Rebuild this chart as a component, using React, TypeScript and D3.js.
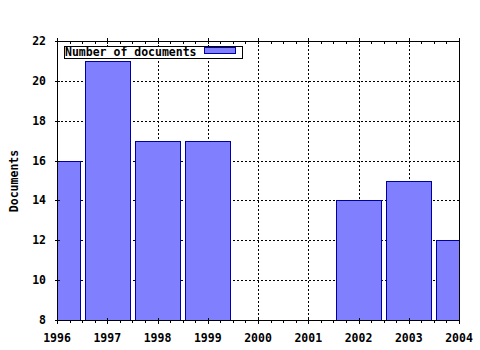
import React from "react";
import * as d3 from "d3";

const years = [1996, 1997, 1998, 1999, 2000, 2001, 2002, 2003, 2004];
const documents: (number | null)[] = [16, 21, 17, 17, null, null, 14, 15, 12];
const yTicks = [8, 10, 12, 14, 16, 18, 20, 22];
const seriesName = "Number of documents";
const yTitle = "Documents";

const W = 480, H = 350;
const L = 57, R = 459, T = 41, B = 320;
const FONT = "'DejaVu Sans Mono', monospace";

export default function App() {
  const x = d3.scaleLinear().domain([1996, 2004]).range([L, R]);
  const y = d3.scaleLinear().domain([8, 22]).range([B, T]);
  const step = x(1997) - x(1996);
  const bw = step * 0.9;
  const minor = d3.range(1996, 2004.001, 0.25).filter((v) => Math.abs(v - Math.round(v)) > 0.01);

  return (
    <svg width={W} height={H} style={{ position: "absolute", left: 0, top: 0, background: "#fff" }}
      shapeRendering="crispEdges">
      <defs>
        <clipPath id="plot">
          <rect x={L} y={T} width={R - L} height={B - T} />
        </clipPath>
      </defs>
      <rect x={0} y={0} width={W} height={H} fill="#fff" />
      {/* grid */}
      <g stroke="#000" strokeDasharray="2,2" strokeWidth={1}>
        {years.slice(1, -1).map((yr) => (
          <line key={yr} x1={Math.round(x(yr)) + 0.5} x2={Math.round(x(yr)) + 0.5} y1={T} y2={B} />
        ))}
        {yTicks.slice(1, -1).map((v) => (
          <line key={v} x1={L} x2={R} y1={Math.round(y(v)) + 0.5} y2={Math.round(y(v)) + 0.5} />
        ))}
      </g>
      {/* bars */}
      <g clipPath="url(#plot)">
        {years.map((yr, i) => {
          const v = documents[i];
          if (v == null) return null;
          const x0 = Math.round(x(yr) - bw / 2) + 0.5;
          const x1 = Math.round(x(yr) + bw / 2) + 0.5;
          return (
            <rect key={yr} x={x0} y={Math.round(y(v)) + 0.5} width={x1 - x0}
              height={Math.round(y(8)) - Math.round(y(v))}
              fill="#8080ff" stroke="#0000a0" strokeWidth={1} />
          );
        })}
      </g>
      {/* frame */}
      <rect x={L + 0.5} y={T + 0.5} width={R - L} height={B - T} fill="none" stroke="#000" strokeWidth={1} />
      {/* x ticks */}
      <g stroke="#000">
        {years.map((yr) => {
          const px = Math.round(x(yr)) + 0.5;
          return (
            <g key={yr}>
              <line x1={px} x2={px} y1={B - 2} y2={B + 4} />
              <line x1={px} x2={px} y1={T - 3} y2={T + 3} />
            </g>
          );
        })}
        {minor.map((v) => {
          const px = Math.round(x(v)) + 0.5;
          return (
            <g key={v}>
              <line x1={px} x2={px} y1={B + 1} y2={B + 3} />
              <line x1={px} x2={px} y1={T + 1} y2={T + 3} />
            </g>
          );
        })}
        {yTicks.map((v) => {
          const py = Math.round(y(v)) + 0.5;
          return <line key={v} x1={L - 2} x2={L + 3} y1={py} y2={py} />;
        })}
      </g>
      {/* labels */}
      <g fontFamily={FONT} fontWeight="bold" fontSize={11.5} fill="#000">
        {years.map((yr) => (
          <text key={yr} x={x(yr)} y={341.5} textAnchor="middle">{yr}</text>
        ))}
        {yTicks.map((v) => (
          <text key={v} x={46} y={y(v) + 4} textAnchor="end">{v}</text>
        ))}
        <text transform={`translate(17.5,181) rotate(-90)`} textAnchor="middle">{yTitle}</text>
      </g>
      {/* legend */}
      <rect x={64.5} y={46.5} width={178} height={12} fill="#fff" stroke="#000" />
      <text x={65} y={56} fontFamily={FONT} fontWeight="bold" fontSize={11.5}>{seriesName}</text>
      <rect x={204.5} y={47.5} width={31} height={6} fill="#8080ff" stroke="#0000a0" />
    </svg>
  );
}
